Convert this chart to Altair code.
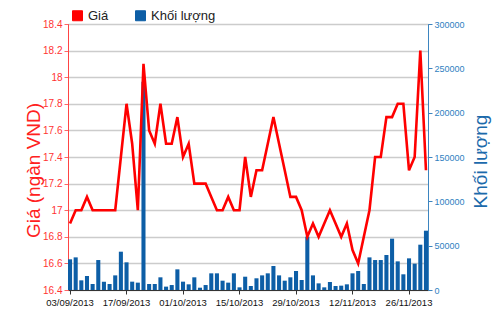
import altair as alt
import pandas as pd

dates = [
    "03/09/2013", "04/09/2013", "05/09/2013", "06/09/2013",
    "09/09/2013", "10/09/2013", "11/09/2013", "12/09/2013", "13/09/2013",
    "16/09/2013", "17/09/2013", "18/09/2013", "19/09/2013", "20/09/2013",
    "23/09/2013", "24/09/2013", "25/09/2013", "26/09/2013", "27/09/2013",
    "30/09/2013", "01/10/2013", "02/10/2013", "03/10/2013", "04/10/2013",
    "07/10/2013", "08/10/2013", "09/10/2013", "10/10/2013", "11/10/2013",
    "14/10/2013", "15/10/2013", "16/10/2013", "17/10/2013", "18/10/2013",
    "21/10/2013", "22/10/2013", "23/10/2013", "24/10/2013", "25/10/2013",
    "28/10/2013", "29/10/2013", "30/10/2013", "31/10/2013", "01/11/2013",
    "04/11/2013", "05/11/2013", "06/11/2013", "07/11/2013", "08/11/2013",
    "11/11/2013", "12/11/2013", "13/11/2013", "14/11/2013", "15/11/2013",
    "18/11/2013", "19/11/2013", "20/11/2013", "21/11/2013", "22/11/2013",
    "25/11/2013", "26/11/2013", "27/11/2013", "28/11/2013", "29/11/2013",
]

price = [
    16.9, 17.0, 17.0, 17.1,
    17.0, 17.0, 17.0, 17.0, 17.0,
    17.4, 17.8, 17.5, 17.0, 18.1,
    17.6, 17.5, 17.8, 17.5, 17.5,
    17.7, 17.4, 17.5, 17.2, 17.2,
    17.2, 17.1, 17.0, 17.0, 17.1,
    17.0, 17.0, 17.4, 17.1, 17.3,
    17.3, 17.5, 17.7, 17.5, 17.3,
    17.1, 17.1, 17.0, 16.8, 16.9,
    16.8, 16.9, 17.0, 16.9, 16.8,
    16.9, 16.7, 16.6, 16.8, 17.0,
    17.4, 17.4, 17.7, 17.7, 17.8,
    17.8, 17.3, 17.4, 18.2, 17.3,
]

volume = [
    34600, 36800, 10900, 15800,
    6800, 33800, 9400, 6800, 16500,
    43200, 31200, 9400, 8300, 235000,
    6800, 6800, 14300, 3800, 5600,
    23300, 9400, 6400, 14300, 2600,
    5600, 18800, 18800, 10500, 8300,
    18800, 3000, 15000, 4500, 13200,
    16500, 18800, 27100, 16500, 10500,
    14300, 21400, 11300, 60200, 16500,
    7500, 3000, 9000, 4500, 4900,
    6400, 18800, 21400, 6800, 36800,
    33800, 33800, 39500, 57900, 32300,
    17700, 35700, 29700, 51100, 66900,
]

tick_dates = ["03/09/2013", "17/09/2013", "01/10/2013", "15/10/2013",
              "29/10/2013", "12/11/2013", "26/11/2013"]
price_ticks = [16.4, 16.6, 16.8, 17.0, 17.2, 17.4, 17.6, 17.8, 18.0, 18.2, 18.4]
volume_ticks = [0, 50000, 100000, 150000, 200000, 250000, 300000]
series = ["Giá", "Khối lượng"]
colors = ["#ff0000", "#0d5ea6"]

df = pd.DataFrame({
    "date": dates,
    "price": price,
    "volume": volume,
    "sp": series[0],
    "sv": series[1],
})

FONT = "Liberation Sans, Arial"

color_scale = alt.Scale(domain=series, range=colors)

x_enc = alt.X(
    "date:O", sort=None,
    scale=alt.Scale(paddingInner=0.28, paddingOuter=0),
    axis=alt.Axis(
        values=tick_dates, labelAngle=0, title=None,
        labelFont=FONT, labelFontSize=9.5, labelColor="#111111",
        domainColor="#333333", tickColor="#333333", tickSize=4,
        labelPadding=3, grid=False,
    ),
)

bars = alt.Chart(df).mark_bar().encode(
    x=x_enc,
    y=alt.Y(
        "volume:Q",
        scale=alt.Scale(domain=[0, 300000], nice=False),
        axis=alt.Axis(
            orient="right", values=volume_ticks, format="d", grid=False,
            title="Khối lượng", titleFont="Liberation Sans", titleFontSize=19,
            titleFontWeight="normal", titleColor="#1c6aab",
            titleAngle=270, titleAlign="center", titleBaseline="middle",
            titleX=52, titleY=137,
            labelFont=FONT, labelFontSize=9, labelColor="#2f7fbf",
            domainColor="#3d85c0", tickColor="#3d85c0", tickSize=4, labelPadding=2,
        ),
    ),
    color=alt.Color(
        "sv:N", scale=color_scale,
        legend=alt.Legend(
            title=None, orient="none", direction="horizontal",
            legendX=3, legendY=-15, symbolType="square", symbolSize=100,
            symbolStrokeColor="#222222", symbolStrokeWidth=1,
            labelFont="Liberation Sans", labelFontSize=13, labelColor="#222222",
            columnPadding=24, labelOffset=4,
        ),
    ),
)

line = alt.Chart(df).mark_line(strokeWidth=2.6).encode(
    x=x_enc,
    y=alt.Y(
        "price:Q",
        scale=alt.Scale(domain=[16.4, 18.4], nice=False, zero=False),
        axis=alt.Axis(
            orient="left", values=price_ticks, format="~g",
            grid=True, gridColor="#cccccc", gridWidth=1.5,
            title="Giá (ngàn VND)", titleFont="Liberation Sans", titleFontSize=19,
            titleFontWeight="normal", titleColor="#ff2020",
            titleAngle=270, titleAlign="center", titleBaseline="middle",
            titleX=-35, titleY=146,
            labelFont=FONT, labelFontSize=10, labelColor="#ff3333",
            domainColor="#ff4444", tickColor="#ff6666", tickSize=4, labelPadding=2,
        ),
    ),
    color=alt.Color("sp:N", scale=color_scale),
)

chart = alt.layer(bars, line).resolve_scale(y="independent").properties(
    width=360, height=266,
    autosize=alt.AutoSizeParams(type="none"),
    padding={"left": 68, "top": 24, "right": 72, "bottom": 22},
    background="white",
).configure_view(stroke="#333333", strokeWidth=1)

chart.save("out.html", embed_options={"renderer": "svg", "actions": False})
